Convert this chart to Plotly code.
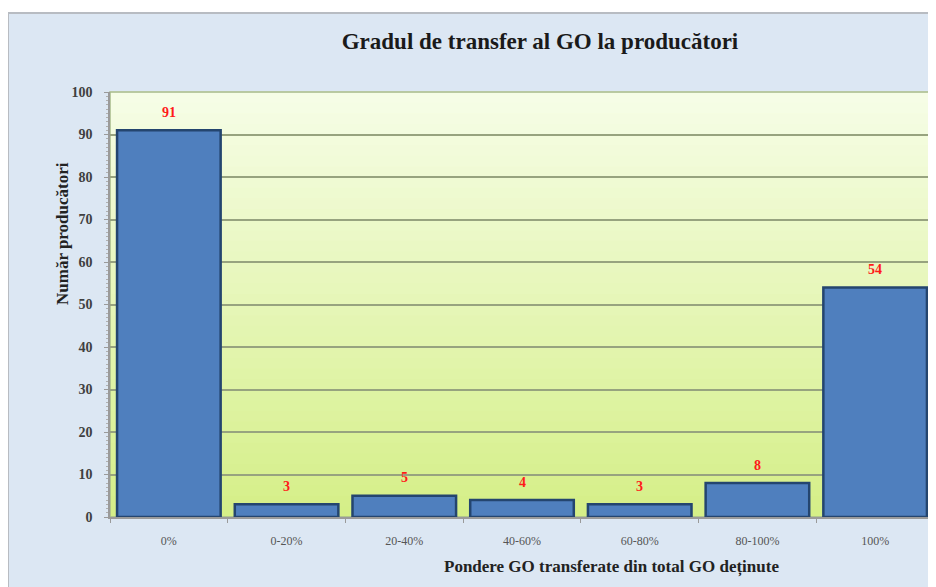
import plotly.graph_objects as go

categories = ["0%", "0-20%", "20-40%", "40-60%", "60-80%", "80-100%", "100%"]
values = [91, 3, 5, 4, 3, 8, 54]
y_ticks = list(range(0, 101, 10))

title_text = "Gradul de transfer al GO la producători"
y_title = "Număr producători"
x_title = "Pondere GO transferate din total GO deținute"

# page has an 8px body margin, so the figure is drawn 8px smaller
W, H = 928, 579
L, R, T, B = 102, 2, 84, 70

def lerp_color(c1, c2, t):
    a = [int(c1[i:i + 2], 16) for i in (1, 3, 5)]
    b = [int(c2[i:i + 2], 16) for i in (1, 3, 5)]
    return "rgb(%d,%d,%d)" % tuple(round(a[k] + (b[k] - a[k]) * t) for k in range(3))

pw = W - L - R
ph = H - T - B
def px_x(px):
    return (px - L) / pw
def px_y(py):
    return (H - B - py) / ph

shapes = []
shapes.append(dict(type="rect", xref="paper", yref="paper", layer="below",
                   x0=px_x(0), x1=px_x(W + 4), y0=px_y(H + 4), y1=px_y(5),
                   fillcolor="#dce7f3", line=dict(color="#b8bcc2", width=2)))
n = 40
for i in range(n):
    t = i / (n - 1)
    shapes.append(dict(type="rect", xref="paper", yref="paper", layer="below",
                       x0=0, x1=1, y0=i / n, y1=(i + 1) / n + 0.002,
                       fillcolor=lerp_color("#d5ef88", "#f6fde6", t),
                       line=dict(width=0)))
shapes.append(dict(type="rect", xref="paper", yref="paper", layer="below",
                   x0=0, x1=1, y0=0, y1=1, line=dict(color="#a7b98a", width=1.5)))

fig = go.Figure()
fig.add_trace(go.Bar(
    x=categories, y=values,
    marker=dict(color="#4f7fbe", line=dict(color="#24456f", width=2.5)),
    width=0.88,
    hoverinfo="x+y",
))

annotations = []
for c, v in zip(categories, values):
    annotations.append(dict(x=c, y=v, text="<b>%d</b>" % v, showarrow=False,
                            yshift=18, font=dict(family="Liberation Serif", size=14, color="#ff1a1a")))
annotations.append(dict(xref="paper", yref="paper", x=px_x(54), y=px_y(226),
                        xanchor="center", yanchor="middle",
                        text="<b>%s</b>" % y_title, textangle=-90, showarrow=False,
                        font=dict(family="Liberation Serif", size=17, color="#222222")))
annotations.append(dict(xref="paper", yref="paper", x=px_x(603), y=px_y(559),
                        xanchor="center", yanchor="middle",
                        text="<b>%s</b>" % x_title, showarrow=False,
                        font=dict(family="Liberation Serif", size=17, color="#222222")))

fig.update_layout(
    width=W, height=H,
    margin=dict(l=L, r=R, t=T, b=B),
    paper_bgcolor="white",
    plot_bgcolor="rgba(0,0,0,0)",
    title=dict(text="<b>%s</b>" % title_text, x=532 / W, xanchor="center",
               y=1 - 33 / H, yanchor="middle", yref="container",
               font=dict(family="Liberation Serif", size=23, color="#1a1a1a")),
    shapes=shapes,
    annotations=annotations,
    showlegend=False,
    bargap=0.12,
)
fig.update_yaxes(range=[0, 100], tickvals=y_ticks, showgrid=True, gridcolor="#97a37f", gridwidth=1.5,
                 showline=True, linecolor="#9a9a9a", linewidth=1.5, ticks="outside", ticklen=4,
                 tickcolor="#9a9a9a", ticklabelstandoff=9,
                 minor=dict(ticks="outside", dtick=1, ticklen=2, tickcolor="#b0b0b0", showgrid=False),
                 tickfont=dict(family="Liberation Serif", size=14, color="#404040", weight="bold"),
                 zeroline=False)
fig.update_xaxes(showline=True, linecolor="#9a9a9a", linewidth=1.5, ticks="outside", ticklen=4,
                 tickcolor="#9a9a9a", tickson="boundaries", ticklabelstandoff=12,
                 tickfont=dict(family="Liberation Serif", size=12, color="#555555"),
                 showgrid=False)

fig.write_html("out.html")
